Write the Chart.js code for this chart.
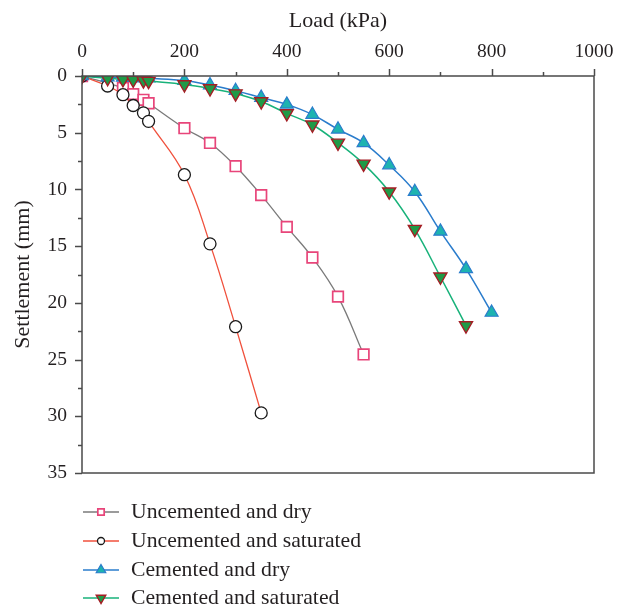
<!DOCTYPE html>
<html>
<head>
<meta charset="utf-8">
<script src="https://cdn.jsdelivr.net/npm/chart.js@4.4.0/dist/chart.umd.min.js"></script>
<style>
  html, body { margin: 0; padding: 0; background: #ffffff; }
  #wrap { width: 626px; height: 611px; position: relative; }
</style>
</head>
<body>
<div id="wrap"><canvas id="c" width="626" height="611"></canvas></div>
<script>
// ---- Data ----
const loadsUncementedDry = [0, 80, 100, 120, 130, 200, 250, 300, 350, 400, 450, 500, 550];
const settleUncementedDry = [0, 1.05, 1.6, 2.1, 2.4, 4.6, 5.9, 7.95, 10.5, 13.3, 16.0, 19.45, 24.55];

const loadsUncementedSat = [0, 50, 80, 100, 120, 130, 200, 250, 300, 350];
const settleUncementedSat = [0, 0.88, 1.65, 2.6, 3.25, 4.0, 8.7, 14.8, 22.1, 29.7];

const loadsCementedDry = [0, 50, 80, 100, 120, 130, 200, 250, 300, 350, 400, 450, 500, 550, 600, 650, 700, 750, 800];
const settleCementedDry = [0, 0.1, 0.12, 0.15, 0.18, 0.2, 0.4, 0.8, 1.3, 1.9, 2.5, 3.4, 4.7, 5.9, 7.85, 10.2, 13.7, 17.0, 20.85];

const loadsCementedSat = [0, 50, 80, 100, 120, 130, 200, 250, 300, 350, 400, 450, 500, 550, 600, 650, 700, 750];
const settleCementedSat = [0, 0.2, 0.3, 0.35, 0.4, 0.45, 0.75, 1.1, 1.55, 2.25, 3.3, 4.3, 5.9, 7.75, 10.2, 13.5, 17.7, 22.0];

const seriesNames = ["Uncemented and dry", "Uncemented and saturated", "Cemented and dry", "Cemented and saturated"];
const xTickLabels = [0, 200, 400, 600, 800, 1000];
const yTickLabels = [0, 5, 10, 15, 20, 25, 30, 35];

const FONT = "'Liberation Serif', 'DejaVu Serif', serif";
const TEXT = "#231f20";
const AXIS = "#4a4a4a";

function pts(xs, ys) { return xs.map((x, i) => ({ x: x, y: ys[i] })); }

const datasets = [
  {
    label: seriesNames[0], data: pts(loadsUncementedDry, settleUncementedDry),
    borderColor: "#7a7a7a", borderWidth: 1.3,
    pointStyle: "rect", pointRadius: 7.5, pointBorderColor: "#e8457a", pointBackgroundColor: "#ffffff", pointBorderWidth: 1.7,
    legendRadius: 4.5
  },
  {
    label: seriesNames[1], data: pts(loadsUncementedSat, settleUncementedSat),
    borderColor: "#f0503c", borderWidth: 1.3,
    pointStyle: "circle", pointRadius: 6, pointBorderColor: "#1a1a1a", pointBackgroundColor: "#ffffff", pointBorderWidth: 1.3,
    legendRadius: 3.5
  },
  {
    label: seriesNames[2], data: pts(loadsCementedDry, settleCementedDry),
    borderColor: "#2a7ccc", borderWidth: 1.5,
    pointStyle: "triangle", pointRadius: 7.5, pointBorderColor: "#2a7ccc", pointBackgroundColor: "#1db3b0", pointBorderWidth: 1.2,
    legendRadius: 5.5
  },
  {
    label: seriesNames[3], data: pts(loadsCementedSat, settleCementedSat),
    borderColor: "#18b27a", borderWidth: 1.5,
    pointStyle: "triangle", pointRotation: 180, pointRadius: 7.5, pointBorderColor: "#a51d24", pointBackgroundColor: "#1f9a47", pointBorderWidth: 1.4,
    legendRadius: 5.5
  }
];
datasets.forEach(d => { d.tension = 0.4; d.fill = false; d.pointHoverRadius = d.pointRadius; });
datasets[0].order = 4; datasets[1].order = 3; datasets[2].order = 2; datasets[3].order = 1;

const framePlugin = {
  id: "frame",
  afterDatasetsDraw(chart) {
    const { ctx, chartArea: a, scales } = chart;
    ctx.save();
    ctx.strokeStyle = AXIS;
    ctx.lineWidth = 1.5;
    ctx.strokeRect(a.left, a.top, a.right - a.left, a.bottom - a.top);
    for (let v = 0; v <= 1000; v += 100) {
      const px = Math.round(scales.x.getPixelForValue(v)) + 0.5;
      const len = (v % 200 === 0) ? 7 : 4;
      ctx.beginPath(); ctx.moveTo(px, a.top); ctx.lineTo(px, a.top - len); ctx.stroke();
    }
    for (let v = 0; v <= 35; v += 2.5) {
      const py = Math.round(scales.y.getPixelForValue(v)) + 0.5;
      const len = (v % 5 === 0) ? 7 : 4;
      ctx.beginPath(); ctx.moveTo(a.left, py); ctx.lineTo(a.left - len, py); ctx.stroke();
    }
    ctx.restore();
  },
  afterDraw(chart) {
    const { ctx } = chart;
    const rows = [512, 541, 570, 598];
    ctx.save();
    chart.data.datasets.forEach((d, i) => {
      const y = rows[i];
      ctx.strokeStyle = d.borderColor;
      ctx.lineWidth = 1.3;
      ctx.beginPath(); ctx.moveTo(83, y); ctx.lineTo(119, y); ctx.stroke();
      ctx.fillStyle = d.pointBackgroundColor;
      ctx.strokeStyle = d.pointBorderColor;
      ctx.lineWidth = d.pointBorderWidth;
      Chart.helpers.drawPoint(ctx, { pointStyle: d.pointStyle, rotation: d.pointRotation || 0, radius: d.legendRadius, borderWidth: d.pointBorderWidth }, 101, y);
      ctx.fillStyle = TEXT;
      ctx.font = "21.7px " + FONT;
      ctx.textBaseline = "middle";
      ctx.textAlign = "left";
      ctx.fillText(d.label, 131, y);
    });
    ctx.restore();
  }
};

new Chart(document.getElementById("c"), {
  type: "line",
  data: { datasets: datasets },
  plugins: [framePlugin],
  options: {
    responsive: false,
    animation: false,
    events: [],
    layout: { padding: { top: 0, left: 0, right: 32, bottom: 138 } },
    plugins: { legend: { display: false }, tooltip: { enabled: false } },
    scales: {
      x: {
        type: "linear", position: "top", min: 0, max: 1000,
        afterBuildTicks(s) { s.ticks = xTickLabels.map(v => ({ value: v })); },
        afterFit(s) { s.height = 76; },
        grid: { display: false, drawTicks: false },
        border: { display: false },
        ticks: { padding: 12, color: TEXT, font: { family: FONT, size: 19.5 }, maxRotation: 0, callback: v => String(v) },
        title: { display: true, text: "Load (kPa)", color: TEXT, font: { family: FONT, size: 22 }, padding: { top: 8, bottom: 0 } }
      },
      y: {
        type: "linear", reverse: true, min: 0, max: 35,
        afterBuildTicks(s) { s.ticks = yTickLabels.map(v => ({ value: v })); },
        afterFit(s) { s.width = 82; },
        grid: { display: false, drawTicks: false },
        border: { display: false },
        ticks: { padding: 15, color: TEXT, font: { family: FONT, size: 19.5 }, callback: v => String(v) },
        title: { display: true, text: "Settlement (mm)", color: TEXT, font: { family: FONT, size: 22 }, padding: { top: 10, bottom: 0 } }
      }
    }
  }
});
</script>
</body>
</html>
